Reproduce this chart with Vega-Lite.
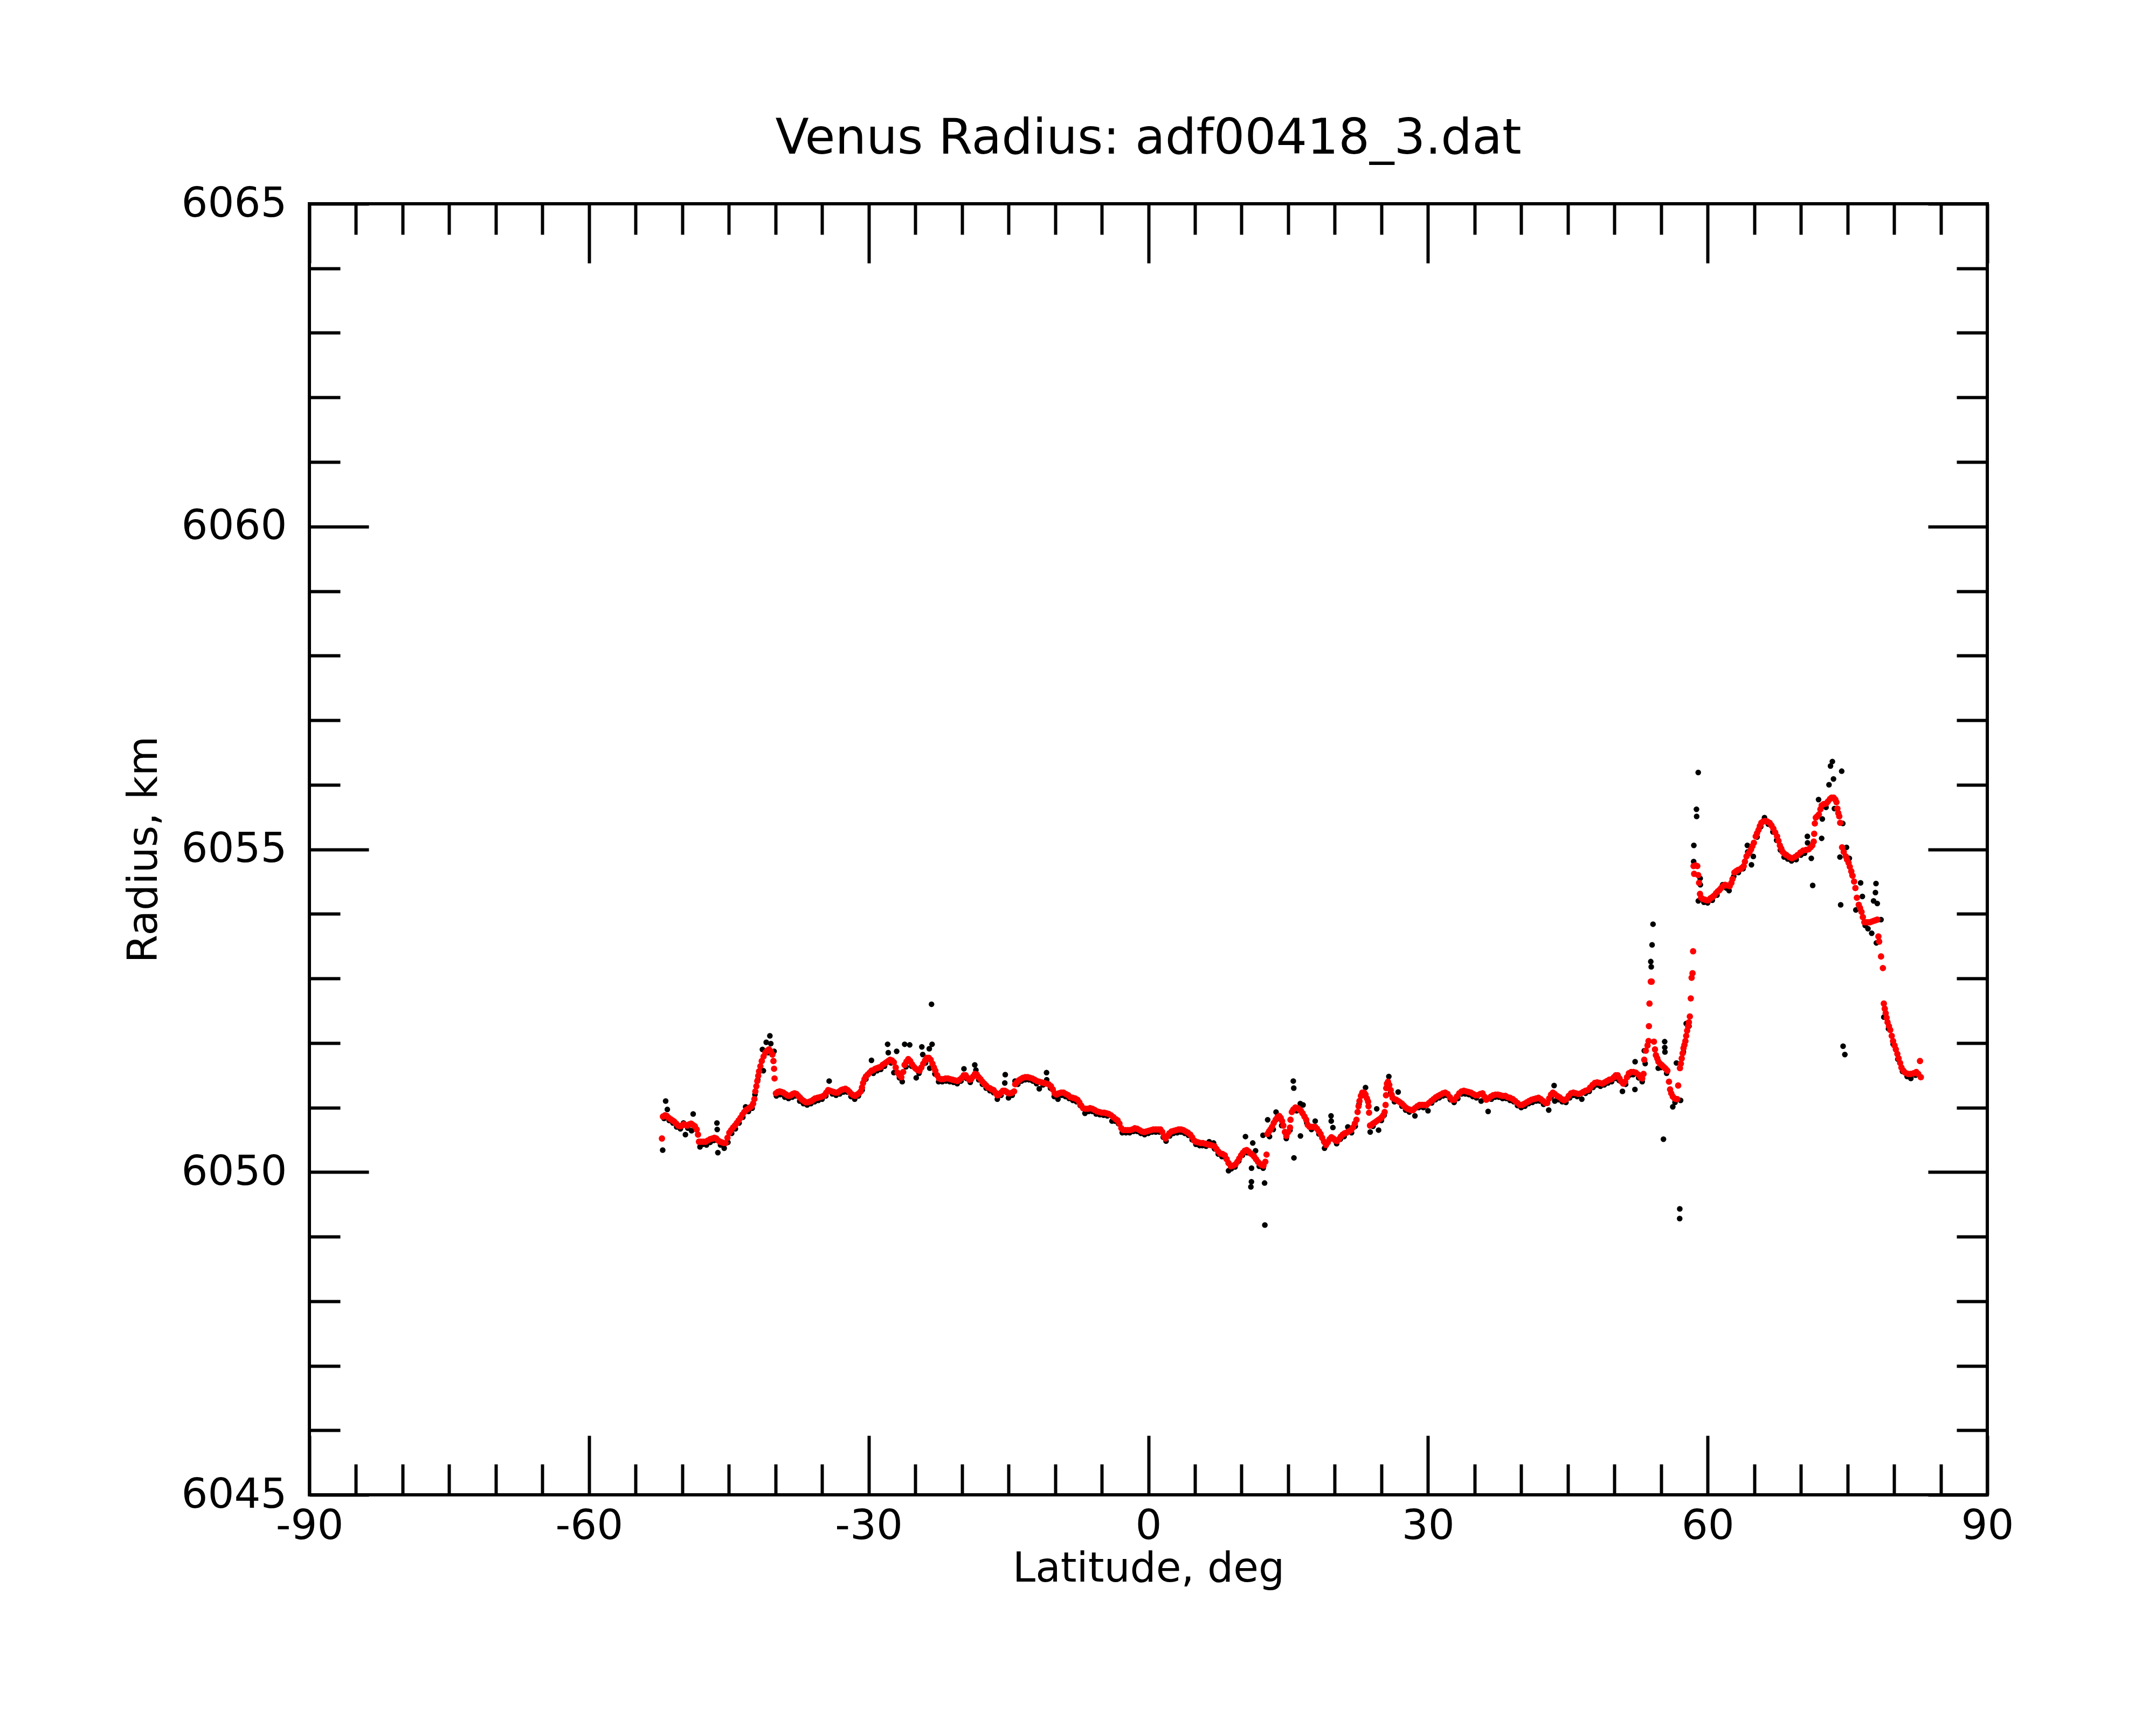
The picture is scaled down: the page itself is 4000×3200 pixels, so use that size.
{
  "$schema": "https://vega.github.io/schema/vega-lite/v6.json",
  "autosize": {"type": "none"},
  "width": 3113,
  "height": 2395,
  "padding": {"left": 574, "top": 378, "right": 313, "bottom": 427},
  "background": "white",
  "title": {"text": "Venus Radius: adf00418_3.dat", "fontSize": 91, "font": "DejaVu Sans", "fontWeight": "normal", "color": "black", "anchor": "middle", "frame": "group", "baseline": "alphabetic", "offset": 96, "dy": 133},
  "config": {"view": {"stroke": "black", "strokeWidth": 6}, "font": "DejaVu Sans"},
  "datasets": {
    "fit": [
      {"lat":-52.18,"r":6050.52},{"lat":-52.07,"r":6050.86},{"lat":-51.85,"r":6050.88},{"lat":-51.65,"r":6050.87},{"lat":-51.45,"r":6050.84},{"lat":-51.25,"r":6050.82},{"lat":-51.05,"r":6050.80},{"lat":-50.85,"r":6050.78},{"lat":-50.65,"r":6050.75},{"lat":-50.45,"r":6050.72},{"lat":-50.25,"r":6050.71},{"lat":-50.05,"r":6050.72},{"lat":-49.85,"r":6050.74},{"lat":-49.65,"r":6050.73},{"lat":-49.45,"r":6050.72},{"lat":-49.25,"r":6050.74},{"lat":-49.05,"r":6050.75},{"lat":-48.85,"r":6050.73},{"lat":-48.65,"r":6050.71},{"lat":-48.45,"r":6050.66},{"lat":-48.31,"r":6050.58},{"lat":-48.21,"r":6050.47},{"lat":-48.0,"r":6050.47},{"lat":-47.75,"r":6050.47},{"lat":-47.5,"r":6050.47},{"lat":-47.25,"r":6050.49},{"lat":-47.0,"r":6050.51},{"lat":-46.75,"r":6050.52},{"lat":-46.55,"r":6050.53},{"lat":-46.35,"r":6050.52},{"lat":-46.15,"r":6050.49},{"lat":-45.95,"r":6050.47},{"lat":-45.75,"r":6050.46},{"lat":-45.55,"r":6050.45},{"lat":-45.35,"r":6050.45},{"lat":-45.15,"r":6050.53},{"lat":-44.95,"r":6050.61},{"lat":-44.75,"r":6050.65},{"lat":-44.55,"r":6050.69},{"lat":-44.35,"r":6050.72},{"lat":-44.15,"r":6050.76},{"lat":-43.95,"r":6050.80},{"lat":-43.75,"r":6050.84},{"lat":-43.55,"r":6050.89},{"lat":-43.35,"r":6050.93},{"lat":-43.15,"r":6050.96},{"lat":-42.95,"r":6050.98},{"lat":-42.75,"r":6051.00},{"lat":-42.55,"r":6051.02},{"lat":-42.4,"r":6051.06},{"lat":-42.26,"r":6051.13},{"lat":-42.16,"r":6051.25},{"lat":-42.05,"r":6051.33},{"lat":-41.95,"r":6051.41},{"lat":-41.85,"r":6051.49},{"lat":-41.76,"r":6051.56},{"lat":-41.62,"r":6051.64},{"lat":-41.47,"r":6051.72},{"lat":-41.28,"r":6051.79},{"lat":-41.08,"r":6051.85},{"lat":-40.9,"r":6051.88},{"lat":-40.7,"r":6051.90},{"lat":-40.5,"r":6051.87},{"lat":-40.33,"r":6051.82},{"lat":-40.22,"r":6051.72},{"lat":-40.15,"r":6051.60},{"lat":-40.1,"r":6051.45},
      {"lat":-39.95,"r":6051.22},{"lat":-39.75,"r":6051.24},{"lat":-39.55,"r":6051.25},{"lat":-39.35,"r":6051.24},{"lat":-39.15,"r":6051.23},{"lat":-38.95,"r":6051.21},{"lat":-38.75,"r":6051.19},{"lat":-38.55,"r":6051.18},{"lat":-38.35,"r":6051.19},{"lat":-38.15,"r":6051.21},{"lat":-37.95,"r":6051.22},{"lat":-37.75,"r":6051.21},{"lat":-37.55,"r":6051.18},{"lat":-37.35,"r":6051.15},{"lat":-37.15,"r":6051.12},{"lat":-36.95,"r":6051.10},{"lat":-36.75,"r":6051.08},{"lat":-36.55,"r":6051.08},{"lat":-36.35,"r":6051.09},{"lat":-36.15,"r":6051.10},{"lat":-35.95,"r":6051.12},{"lat":-35.75,"r":6051.14},{"lat":-35.5,"r":6051.15},{"lat":-35.25,"r":6051.16},{"lat":-35.0,"r":6051.17},{"lat":-34.75,"r":6051.19},{"lat":-34.55,"r":6051.23},{"lat":-34.35,"r":6051.27},{"lat":-34.15,"r":6051.26},{"lat":-33.95,"r":6051.25},{"lat":-33.75,"r":6051.24},{"lat":-33.55,"r":6051.23},{"lat":-33.35,"r":6051.23},{"lat":-33.15,"r":6051.25},{"lat":-32.95,"r":6051.27},{"lat":-32.75,"r":6051.28},{"lat":-32.5,"r":6051.29},{"lat":-32.25,"r":6051.27},{"lat":-32.05,"r":6051.24},{"lat":-31.85,"r":6051.21},{"lat":-31.65,"r":6051.19},{"lat":-31.45,"r":6051.18},{"lat":-31.25,"r":6051.20},{"lat":-31.05,"r":6051.22},{"lat":-30.85,"r":6051.25},{"lat":-30.72,"r":6051.31},{"lat":-30.6,"r":6051.38},{"lat":-30.45,"r":6051.44},{"lat":-30.3,"r":6051.48},{"lat":-30.1,"r":6051.51},{"lat":-29.9,"r":6051.54},{"lat":-29.7,"r":6051.57},{"lat":-29.5,"r":6051.58},{"lat":-29.3,"r":6051.60},{"lat":-29.1,"r":6051.61},{"lat":-28.9,"r":6051.62},{"lat":-28.7,"r":6051.63},{"lat":-28.5,"r":6051.66},{"lat":-28.3,"r":6051.68},{"lat":-28.1,"r":6051.70},{"lat":-27.9,"r":6051.72},{"lat":-27.7,"r":6051.74},{"lat":-27.5,"r":6051.73},{"lat":-27.3,"r":6051.70},{"lat":-27.1,"r":6051.62},{"lat":-26.9,"r":6051.54},{"lat":-26.7,"r":6051.50},{"lat":-26.5,"r":6051.47},{"lat":-26.3,"r":6051.55},{"lat":-26.15,"r":6051.66},{"lat":-25.95,"r":6051.71},{"lat":-25.75,"r":6051.75},{"lat":-25.55,"r":6051.72},{"lat":-25.35,"r":6051.67},{"lat":-25.15,"r":6051.63},{"lat":-24.95,"r":6051.60},{"lat":-24.75,"r":6051.58},{"lat":-24.55,"r":6051.57},{"lat":-24.35,"r":6051.62},{"lat":-24.15,"r":6051.68},{"lat":-23.95,"r":6051.73},{"lat":-23.75,"r":6051.77},{"lat":-23.55,"r":6051.77},{"lat":-23.35,"r":6051.74},{"lat":-23.16,"r":6051.68},{"lat":-23.0,"r":6051.62},{"lat":-22.85,"r":6051.57},{"lat":-22.65,"r":6051.50},{"lat":-22.45,"r":6051.45},{"lat":-22.25,"r":6051.44},{"lat":-22.0,"r":6051.44},{"lat":-21.75,"r":6051.45},{"lat":-21.5,"r":6051.45},{"lat":-21.25,"r":6051.44},{"lat":-21.0,"r":6051.43},{"lat":-20.75,"r":6051.42},{"lat":-20.5,"r":6051.41},{"lat":-20.25,"r":6051.43},{"lat":-20.0,"r":6051.46},{"lat":-19.8,"r":6051.50},{"lat":-19.6,"r":6051.50},{"lat":-19.4,"r":6051.46},{"lat":-19.2,"r":6051.43},{"lat":-19.0,"r":6051.44},{"lat":-18.8,"r":6051.48},{"lat":-18.6,"r":6051.52},{"lat":-18.4,"r":6051.51},{"lat":-18.2,"r":6051.47},{"lat":-18.0,"r":6051.44},{"lat":-17.8,"r":6051.40},{"lat":-17.6,"r":6051.37},{"lat":-17.4,"r":6051.34},{"lat":-17.2,"r":6051.31},{"lat":-17.0,"r":6051.30},{"lat":-16.8,"r":6051.28},{"lat":-16.6,"r":6051.27},{"lat":-16.4,"r":6051.23},{"lat":-16.2,"r":6051.19},{"lat":-16.0,"r":6051.20},{"lat":-15.8,"r":6051.23},{"lat":-15.6,"r":6051.26},{"lat":-15.4,"r":6051.26},{"lat":-15.2,"r":6051.24},{"lat":-15.0,"r":6051.22},{"lat":-14.8,"r":6051.22},{"lat":-14.6,"r":6051.23},{"lat":-14.4,"r":6051.25},{"lat":-14.28,"r":6051.36},{"lat":-14.1,"r":6051.39},{"lat":-13.9,"r":6051.42},{"lat":-13.7,"r":6051.44},{"lat":-13.45,"r":6051.46},{"lat":-13.2,"r":6051.47},{"lat":-12.95,"r":6051.47},{"lat":-12.7,"r":6051.46},{"lat":-12.45,"r":6051.45},{"lat":-12.2,"r":6051.43},{"lat":-11.95,"r":6051.41},{"lat":-11.7,"r":6051.40},{"lat":-11.45,"r":6051.39},{"lat":-11.2,"r":6051.38},{"lat":-10.95,"r":6051.37},{"lat":-10.7,"r":6051.36},{"lat":-10.45,"r":6051.33},{"lat":-10.25,"r":6051.28},{"lat":-10.05,"r":6051.22},{"lat":-9.85,"r":6051.20},{"lat":-9.6,"r":6051.22},{"lat":-9.35,"r":6051.23},{"lat":-9.1,"r":6051.23},{"lat":-8.85,"r":6051.21},{"lat":-8.6,"r":6051.19},{"lat":-8.35,"r":6051.16},{"lat":-8.1,"r":6051.15},{"lat":-7.85,"r":6051.14},{"lat":-7.6,"r":6051.12},{"lat":-7.4,"r":6051.08},{"lat":-7.2,"r":6051.03},{"lat":-7.0,"r":6050.99},{"lat":-6.75,"r":6050.98},{"lat":-6.5,"r":6050.98},{"lat":-6.25,"r":6050.99},{"lat":-6.0,"r":6050.98},{"lat":-5.75,"r":6050.96},{"lat":-5.5,"r":6050.94},{"lat":-5.25,"r":6050.93},{"lat":-5.0,"r":6050.92},{"lat":-4.75,"r":6050.92},{"lat":-4.5,"r":6050.91},{"lat":-4.25,"r":6050.90},{"lat":-4.0,"r":6050.88},{"lat":-3.75,"r":6050.85},{"lat":-3.5,"r":6050.82},{"lat":-3.3,"r":6050.80},{"lat":-3.1,"r":6050.75},{"lat":-2.9,"r":6050.68},{"lat":-2.7,"r":6050.65},{"lat":-2.45,"r":6050.65},{"lat":-2.2,"r":6050.65},{"lat":-1.95,"r":6050.65},{"lat":-1.7,"r":6050.66},{"lat":-1.45,"r":6050.68},{"lat":-1.2,"r":6050.67},{"lat":-0.95,"r":6050.65},{"lat":-0.7,"r":6050.63},{"lat":-0.45,"r":6050.62},{"lat":-0.2,"r":6050.63},{"lat":0.05,"r":6050.64},{"lat":0.3,"r":6050.65},{"lat":0.55,"r":6050.66},{"lat":0.8,"r":6050.66},{"lat":1.05,"r":6050.66},{"lat":1.3,"r":6050.66},{"lat":1.5,"r":6050.62},{"lat":1.7,"r":6050.55},{"lat":1.85,"r":6050.52},{"lat":2.05,"r":6050.56},{"lat":2.25,"r":6050.60},{"lat":2.5,"r":6050.63},{"lat":2.75,"r":6050.64},{"lat":3.0,"r":6050.65},{"lat":3.25,"r":6050.66},{"lat":3.5,"r":6050.66},{"lat":3.75,"r":6050.65},{"lat":4.0,"r":6050.63},{"lat":4.25,"r":6050.61},{"lat":4.5,"r":6050.58},{"lat":4.7,"r":6050.54},{"lat":4.9,"r":6050.49},{"lat":5.1,"r":6050.47},{"lat":5.35,"r":6050.46},{"lat":5.6,"r":6050.45},{"lat":5.85,"r":6050.45},{"lat":6.1,"r":6050.44},{"lat":6.35,"r":6050.43},{"lat":6.6,"r":6050.42},{"lat":6.85,"r":6050.41},{"lat":7.1,"r":6050.40},{"lat":7.3,"r":6050.36},{"lat":7.5,"r":6050.32},{"lat":7.7,"r":6050.29},{"lat":7.95,"r":6050.28},{"lat":8.2,"r":6050.26},{"lat":8.4,"r":6050.20},{"lat":8.6,"r":6050.14},{"lat":8.85,"r":6050.09},{"lat":9.1,"r":6050.10},{"lat":9.35,"r":6050.12},{"lat":9.55,"r":6050.16},{"lat":9.75,"r":6050.21},{"lat":9.95,"r":6050.26},{"lat":10.15,"r":6050.30},{"lat":10.35,"r":6050.33},{"lat":10.55,"r":6050.34},{"lat":10.75,"r":6050.32},{"lat":10.95,"r":6050.29},{"lat":11.15,"r":6050.27},{"lat":11.35,"r":6050.24},{"lat":11.55,"r":6050.20},{"lat":11.75,"r":6050.16},{"lat":11.95,"r":6050.13},{"lat":12.15,"r":6050.11},{"lat":12.35,"r":6050.10},{"lat":12.55,"r":6050.16},{"lat":12.68,"r":6050.27},{"lat":12.78,"r":6050.59},{"lat":12.95,"r":6050.63},{"lat":13.1,"r":6050.66},{"lat":13.27,"r":6050.70},{"lat":13.45,"r":6050.76},{"lat":13.66,"r":6050.81},{"lat":13.85,"r":6050.85},{"lat":14.04,"r":6050.87},{"lat":14.2,"r":6050.84},{"lat":14.35,"r":6050.79},{"lat":14.48,"r":6050.72},{"lat":14.65,"r":6050.62},{"lat":14.81,"r":6050.56},{"lat":15.0,"r":6050.62},{"lat":15.2,"r":6050.69},{"lat":15.25,"r":6050.81},{"lat":15.39,"r":6050.93},{"lat":15.55,"r":6050.97},{"lat":15.78,"r":6051.00},{"lat":16.0,"r":6050.99},{"lat":16.2,"r":6050.97},{"lat":16.36,"r":6050.95},{"lat":16.55,"r":6050.91},{"lat":16.75,"r":6050.86},{"lat":16.94,"r":6050.81},{"lat":17.1,"r":6050.73},{"lat":17.3,"r":6050.70},{"lat":17.5,"r":6050.70},{"lat":17.7,"r":6050.70},{"lat":17.9,"r":6050.70},{"lat":18.1,"r":6050.67},{"lat":18.3,"r":6050.63},{"lat":18.48,"r":6050.59},{"lat":18.65,"r":6050.53},{"lat":18.85,"r":6050.47},{"lat":19.06,"r":6050.42},{"lat":19.25,"r":6050.46},{"lat":19.45,"r":6050.51},{"lat":19.64,"r":6050.54},{"lat":19.85,"r":6050.52},{"lat":20.05,"r":6050.49},{"lat":20.25,"r":6050.48},{"lat":20.45,"r":6050.51},{"lat":20.65,"r":6050.55},{"lat":20.85,"r":6050.58},{"lat":21.05,"r":6050.60},{"lat":21.25,"r":6050.61},{"lat":21.5,"r":6050.63},{"lat":21.75,"r":6050.65},{"lat":21.95,"r":6050.69},{"lat":22.15,"r":6050.75},{"lat":22.33,"r":6050.81},{"lat":22.45,"r":6050.93},{"lat":22.55,"r":6051.02},{"lat":22.65,"r":6051.10},{"lat":22.8,"r":6051.18},{"lat":22.95,"r":6051.23},{"lat":23.15,"r":6051.23},{"lat":23.3,"r":6051.20},{"lat":23.45,"r":6051.14},{"lat":23.58,"r":6051.09},{"lat":23.62,"r":6051.02},{"lat":23.68,"r":6050.92},{"lat":23.78,"r":6050.72},{"lat":23.95,"r":6050.73},{"lat":24.1,"r":6050.75},{"lat":24.3,"r":6050.77},{"lat":24.5,"r":6050.79},{"lat":24.7,"r":6050.81},{"lat":24.9,"r":6050.83},{"lat":25.05,"r":6050.85},{"lat":25.2,"r":6050.88},{"lat":25.35,"r":6050.93},{"lat":25.45,"r":6051.04},{"lat":25.5,"r":6051.19},{"lat":25.52,"r":6051.30},{"lat":25.6,"r":6051.37},{"lat":25.71,"r":6051.40},{"lat":25.85,"r":6051.35},{"lat":26.0,"r":6051.27},{"lat":26.1,"r":6051.20},{"lat":26.2,"r":6051.15},{"lat":26.4,"r":6051.13},{"lat":26.6,"r":6051.12},{"lat":26.8,"r":6051.10},{"lat":27.0,"r":6051.08},{"lat":27.2,"r":6051.06},{"lat":27.4,"r":6051.03},{"lat":27.6,"r":6051.00},{"lat":27.8,"r":6050.98},{"lat":28.0,"r":6050.97},{"lat":28.2,"r":6050.96},{"lat":28.4,"r":6050.96},{"lat":28.6,"r":6050.99},{"lat":28.85,"r":6051.02},{"lat":29.1,"r":6051.04},{"lat":29.35,"r":6051.04},{"lat":29.6,"r":6051.04},{"lat":29.85,"r":6051.04},{"lat":30.1,"r":6051.07},{"lat":30.35,"r":6051.10},{"lat":30.6,"r":6051.13},{"lat":30.85,"r":6051.16},{"lat":31.1,"r":6051.18},{"lat":31.35,"r":6051.20},{"lat":31.6,"r":6051.22},{"lat":31.85,"r":6051.23},{"lat":32.1,"r":6051.21},{"lat":32.35,"r":6051.16},{"lat":32.6,"r":6051.12},{"lat":32.85,"r":6051.12},{"lat":33.1,"r":6051.17},{"lat":33.35,"r":6051.22},{"lat":33.6,"r":6051.25},{"lat":33.85,"r":6051.26},{"lat":34.1,"r":6051.25},{"lat":34.35,"r":6051.24},{"lat":34.6,"r":6051.23},{"lat":34.85,"r":6051.21},{"lat":35.1,"r":6051.19},{"lat":35.35,"r":6051.19},{"lat":35.6,"r":6051.21},{"lat":35.85,"r":6051.22},{"lat":36.05,"r":6051.17},{"lat":36.25,"r":6051.12},{"lat":36.5,"r":6051.14},{"lat":36.75,"r":6051.17},{"lat":37.0,"r":6051.19},{"lat":37.25,"r":6051.20},{"lat":37.5,"r":6051.20},{"lat":37.75,"r":6051.19},{"lat":38.0,"r":6051.18},{"lat":38.3,"r":6051.18},{"lat":38.55,"r":6051.16},{"lat":38.8,"r":6051.15},{"lat":39.1,"r":6051.13},{"lat":39.35,"r":6051.10},{"lat":39.6,"r":6051.07},{"lat":39.85,"r":6051.04},{"lat":40.1,"r":6051.04},{"lat":40.35,"r":6051.06},{"lat":40.6,"r":6051.08},{"lat":40.85,"r":6051.10},{"lat":41.1,"r":6051.12},{"lat":41.35,"r":6051.13},{"lat":41.6,"r":6051.14},{"lat":41.85,"r":6051.15},{"lat":42.1,"r":6051.13},{"lat":42.35,"r":6051.10},{"lat":42.6,"r":6051.07},{"lat":42.8,"r":6051.07},{"lat":43.0,"r":6051.14},{"lat":43.2,"r":6051.20},{"lat":43.4,"r":6051.23},{"lat":43.6,"r":6051.21},{"lat":43.85,"r":6051.18},{"lat":44.1,"r":6051.16},{"lat":44.35,"r":6051.13},{"lat":44.6,"r":6051.11},{"lat":44.85,"r":6051.13},{"lat":45.1,"r":6051.18},{"lat":45.35,"r":6051.22},{"lat":45.6,"r":6051.23},{"lat":45.85,"r":6051.22},{"lat":46.1,"r":6051.21},{"lat":46.4,"r":6051.22},{"lat":46.65,"r":6051.24},{"lat":46.9,"r":6051.26},{"lat":47.15,"r":6051.27},{"lat":47.4,"r":6051.31},{"lat":47.65,"r":6051.35},{"lat":47.9,"r":6051.38},{"lat":48.15,"r":6051.39},{"lat":48.4,"r":6051.38},{"lat":48.7,"r":6051.37},{"lat":48.95,"r":6051.39},{"lat":49.2,"r":6051.41},{"lat":49.45,"r":6051.43},{"lat":49.7,"r":6051.44},{"lat":49.95,"r":6051.47},{"lat":50.15,"r":6051.50},{"lat":50.35,"r":6051.50},{"lat":50.55,"r":6051.45},{"lat":50.75,"r":6051.40},{"lat":50.95,"r":6051.37},{"lat":51.15,"r":6051.40},{"lat":51.35,"r":6051.47},{"lat":51.55,"r":6051.53},{"lat":51.8,"r":6051.55},{"lat":52.05,"r":6051.55},{"lat":52.3,"r":6051.54},{"lat":52.55,"r":6051.51},{"lat":52.8,"r":6051.47},{"lat":52.98,"r":6051.45},{"lat":53.12,"r":6051.52},{"lat":53.2,"r":6051.74},{"lat":53.37,"r":6051.88},{"lat":53.55,"r":6051.96},{"lat":53.66,"r":6052.03},{"lat":53.7,"r":6052.26},{"lat":53.76,"r":6052.61},{"lat":53.9,"r":6052.95},{"lat":54.0,"r":6052.95},{"lat":54.24,"r":6052.02},{"lat":54.35,"r":6051.90},{"lat":54.45,"r":6051.81},{"lat":54.6,"r":6051.76},{"lat":54.72,"r":6051.71},{"lat":54.9,"r":6051.68},{"lat":55.05,"r":6051.66},{"lat":55.2,"r":6051.64},{"lat":55.35,"r":6051.62},{"lat":55.5,"r":6051.60},{"lat":55.68,"r":6051.57},{"lat":55.85,"r":6051.40},{"lat":55.97,"r":6051.28},{"lat":56.1,"r":6051.22},{"lat":56.26,"r":6051.17},{"lat":56.45,"r":6051.14},{"lat":56.6,"r":6051.13},{"lat":56.74,"r":6051.13},{"lat":56.84,"r":6051.34},{"lat":57.03,"r":6051.61},{"lat":57.13,"r":6051.68},{"lat":57.22,"r":6051.76},{"lat":57.32,"r":6051.84},{"lat":57.41,"r":6051.92},{"lat":57.51,"r":6051.97},{"lat":57.61,"r":6052.03},{"lat":57.7,"r":6052.11},{"lat":57.8,"r":6052.19},{"lat":57.9,"r":6052.26},{"lat":57.99,"r":6052.32},{"lat":58.09,"r":6052.41},{"lat":58.19,"r":6052.69},{"lat":58.28,"r":6053.01},{"lat":58.38,"r":6053.08},{"lat":58.44,"r":6053.42},{"lat":58.49,"r":6054.74},{"lat":58.55,"r":6054.62},{"lat":58.7,"r":6054.75},{"lat":58.89,"r":6054.74},{"lat":58.99,"r":6054.60},{"lat":59.08,"r":6054.48},{"lat":59.18,"r":6054.31},{"lat":59.3,"r":6054.25},{"lat":59.48,"r":6054.23},{"lat":59.7,"r":6054.22},{"lat":59.9,"r":6054.21},{"lat":60.08,"r":6054.21},{"lat":60.3,"r":6054.24},{"lat":60.5,"r":6054.26},{"lat":60.68,"r":6054.28},{"lat":60.9,"r":6054.32},{"lat":61.1,"r":6054.35},{"lat":61.27,"r":6054.37},{"lat":61.45,"r":6054.40},{"lat":61.65,"r":6054.43},{"lat":61.87,"r":6054.45},{"lat":62.1,"r":6054.44},{"lat":62.37,"r":6054.43},{"lat":62.55,"r":6054.48},{"lat":62.67,"r":6054.54},{"lat":62.87,"r":6054.64},{"lat":63.05,"r":6054.66},{"lat":63.25,"r":6054.68},{"lat":63.47,"r":6054.69},{"lat":63.65,"r":6054.71},{"lat":63.87,"r":6054.74},{"lat":64.0,"r":6054.81},{"lat":64.17,"r":6054.89},{"lat":64.35,"r":6054.93},{"lat":64.5,"r":6054.96},{"lat":64.66,"r":6055.00},{"lat":64.8,"r":6055.05},{"lat":64.96,"r":6055.10},{"lat":65.16,"r":6055.20},{"lat":65.3,"r":6055.25},{"lat":65.46,"r":6055.30},{"lat":65.6,"r":6055.36},{"lat":65.76,"r":6055.41},{"lat":65.95,"r":6055.43},{"lat":66.16,"r":6055.44},{"lat":66.4,"r":6055.43},{"lat":66.65,"r":6055.41},{"lat":66.85,"r":6055.37},{"lat":67.05,"r":6055.32},{"lat":67.25,"r":6055.26},{"lat":67.45,"r":6055.20},{"lat":67.6,"r":6055.13},{"lat":67.75,"r":6055.06},{"lat":67.9,"r":6055.01},{"lat":68.05,"r":6054.96},{"lat":68.25,"r":6054.93},{"lat":68.45,"r":6054.91},{"lat":68.75,"r":6054.88},{"lat":69.04,"r":6054.86},{"lat":69.35,"r":6054.88},{"lat":69.64,"r":6054.91},{"lat":69.95,"r":6054.95},{"lat":70.24,"r":6054.98},{"lat":70.55,"r":6054.99},{"lat":70.83,"r":6055.00},{"lat":71.05,"r":6055.03},{"lat":71.23,"r":6055.06},{"lat":71.38,"r":6055.12},{"lat":71.43,"r":6055.24},{"lat":71.5,"r":6055.40},{"lat":71.6,"r":6055.49},{"lat":71.75,"r":6055.51},{"lat":71.93,"r":6055.54},{"lat":72.1,"r":6055.62},{"lat":72.23,"r":6055.68},{"lat":72.45,"r":6055.70},{"lat":72.72,"r":6055.71},{"lat":72.9,"r":6055.74},{"lat":73.12,"r":6055.78},{"lat":73.3,"r":6055.80},{"lat":73.52,"r":6055.80},{"lat":73.7,"r":6055.77},{"lat":73.82,"r":6055.73},{"lat":73.92,"r":6055.63},{"lat":74.02,"r":6055.56},{"lat":74.12,"r":6055.51},{"lat":74.22,"r":6055.41},{"lat":74.42,"r":6055.03},{"lat":74.6,"r":6054.96},{"lat":74.82,"r":6054.89},{"lat":74.95,"r":6054.84},{"lat":75.12,"r":6054.79},{"lat":75.25,"r":6054.73},{"lat":75.41,"r":6054.66},{"lat":75.55,"r":6054.59},{"lat":75.71,"r":6054.50},{"lat":75.85,"r":6054.40},{"lat":76.01,"r":6054.25},{"lat":76.21,"r":6054.14},{"lat":76.35,"r":6054.09},{"lat":76.51,"r":6054.03},{"lat":76.65,"r":6053.95},{"lat":76.81,"r":6053.87},{"lat":77.0,"r":6053.87},{"lat":77.2,"r":6053.87},{"lat":77.4,"r":6053.87},{"lat":77.6,"r":6053.88},{"lat":77.8,"r":6053.89},{"lat":78.0,"r":6053.90},{"lat":78.2,"r":6053.91},{"lat":78.32,"r":6053.65},{"lat":78.4,"r":6053.57},{"lat":78.6,"r":6053.34},{"lat":78.8,"r":6053.16},{"lat":78.9,"r":6052.61},{"lat":79.0,"r":6052.53},{"lat":79.1,"r":6052.46},{"lat":79.2,"r":6052.39},{"lat":79.3,"r":6052.32},{"lat":79.45,"r":6052.26},{"lat":79.59,"r":6052.20},{"lat":79.75,"r":6052.11},{"lat":79.89,"r":6052.03},{"lat":80.05,"r":6051.96},{"lat":80.19,"r":6051.90},{"lat":80.35,"r":6051.83},{"lat":80.49,"r":6051.76},{"lat":80.65,"r":6051.69},{"lat":80.79,"r":6051.62},{"lat":81.0,"r":6051.57},{"lat":81.19,"r":6051.54},{"lat":81.5,"r":6051.52},{"lat":81.78,"r":6051.52},{"lat":82.1,"r":6051.53},{"lat":82.38,"r":6051.55},{"lat":82.6,"r":6051.52},{"lat":82.87,"r":6051.47},{"lat":82.78,"r":6051.72}
    ],
    "raw": [
      {"lat":-52.1,"r":6050.34},{"lat":-51.95,"r":6050.83},{"lat":-51.78,"r":6051.10},{"lat":-51.6,"r":6050.97},{"lat":-51.4,"r":6050.80},{"lat":-51.0,"r":6050.76},{"lat":-50.6,"r":6050.70},{"lat":-50.2,"r":6050.67},{"lat":-49.87,"r":6050.76},{"lat":-49.66,"r":6050.58},{"lat":-49.4,"r":6050.68},{"lat":-49.0,"r":6050.64},{"lat":-48.83,"r":6050.90},{"lat":-48.6,"r":6050.67},{"lat":-48.1,"r":6050.39},{"lat":-47.8,"r":6050.43},{"lat":-47.4,"r":6050.42},{"lat":-47.0,"r":6050.46},{"lat":-46.6,"r":6050.49},{"lat":-46.28,"r":6050.76},{"lat":-46.25,"r":6050.66},{"lat":-46.18,"r":6050.30},{"lat":-45.9,"r":6050.42},{"lat":-45.5,"r":6050.37},{"lat":-45.1,"r":6050.46},{"lat":-44.7,"r":6050.60},{"lat":-44.3,"r":6050.67},{"lat":-43.9,"r":6050.76},{"lat":-43.5,"r":6050.85},{"lat":-43.2,"r":6051.01},{"lat":-42.9,"r":6050.94},{"lat":-42.5,"r":6050.99},{"lat":-42.2,"r":6051.20},{"lat":-41.9,"r":6051.43},{"lat":-41.4,"r":6051.90},{"lat":-41.3,"r":6051.57},{"lat":-40.99,"r":6052.01},{"lat":-40.8,"r":6051.85},{"lat":-40.6,"r":6052.11},{"lat":-40.5,"r":6051.99},{"lat":-40.15,"r":6051.87},{"lat":-39.9,"r":6051.18},{"lat":-39.5,"r":6051.20},{"lat":-39.0,"r":6051.16},{"lat":-38.6,"r":6051.14},{"lat":-38.2,"r":6051.16},{"lat":-37.8,"r":6051.18},{"lat":-37.4,"r":6051.10},{"lat":-37.0,"r":6051.06},{"lat":-36.6,"r":6051.04},{"lat":-36.2,"r":6051.06},{"lat":-35.8,"r":6051.09},{"lat":-35.4,"r":6051.11},{"lat":-35.0,"r":6051.13},{"lat":-34.6,"r":6051.18},{"lat":-34.24,"r":6051.41},{"lat":-33.9,"r":6051.21},{"lat":-33.5,"r":6051.19},{"lat":-33.1,"r":6051.21},{"lat":-32.7,"r":6051.24},{"lat":-32.3,"r":6051.24},{"lat":-31.9,"r":6051.17},{"lat":-31.5,"r":6051.13},{"lat":-31.1,"r":6051.18},{"lat":-30.7,"r":6051.27},{"lat":-30.3,"r":6051.44},{"lat":-29.7,"r":6051.73},{"lat":-29.5,"r":6051.53},{"lat":-29.1,"r":6051.57},{"lat":-28.7,"r":6051.59},{"lat":-28.3,"r":6051.64},{"lat":-27.97,"r":6051.98},{"lat":-27.9,"r":6051.85},{"lat":-27.6,"r":6051.69},{"lat":-27.3,"r":6051.54},{"lat":-27.0,"r":6051.87},{"lat":-26.7,"r":6051.46},{"lat":-26.4,"r":6051.40},{"lat":-26.14,"r":6051.98},{"lat":-26.0,"r":6051.63},{"lat":-25.6,"r":6051.97},{"lat":-25.4,"r":6051.64},{"lat":-24.9,"r":6051.46},{"lat":-24.6,"r":6051.53},{"lat":-24.3,"r":6051.94},{"lat":-24.2,"r":6051.82},{"lat":-23.9,"r":6051.69},{"lat":-23.5,"r":6051.91},{"lat":-23.26,"r":6052.60},{"lat":-23.2,"r":6051.98},{"lat":-23.45,"r":6051.61},{"lat":-22.9,"r":6051.52},{"lat":-22.5,"r":6051.40},{"lat":-22.1,"r":6051.40},{"lat":-21.7,"r":6051.41},{"lat":-21.3,"r":6051.40},{"lat":-20.9,"r":6051.39},{"lat":-20.5,"r":6051.37},{"lat":-20.1,"r":6051.41},{"lat":-19.78,"r":6051.60},{"lat":-19.5,"r":6051.45},{"lat":-19.1,"r":6051.39},{"lat":-18.62,"r":6051.66},{"lat":-18.5,"r":6051.58},{"lat":-18.2,"r":6051.43},{"lat":-17.8,"r":6051.36},{"lat":-17.4,"r":6051.30},{"lat":-17.0,"r":6051.26},{"lat":-16.6,"r":6051.23},{"lat":-16.2,"r":6051.13},{"lat":-15.8,"r":6051.19},{"lat":-15.35,"r":6051.51},{"lat":-15.4,"r":6051.38},{"lat":-15.0,"r":6051.15},{"lat":-14.6,"r":6051.19},{"lat":-14.3,"r":6051.41},{"lat":-14.0,"r":6051.36},{"lat":-13.6,"r":6051.41},{"lat":-13.2,"r":6051.43},{"lat":-12.8,"r":6051.43},{"lat":-12.4,"r":6051.41},{"lat":-12.0,"r":6051.37},{"lat":-11.7,"r":6051.29},{"lat":-11.3,"r":6051.35},{"lat":-10.92,"r":6051.54},{"lat":-10.9,"r":6051.43},{"lat":-10.5,"r":6051.30},{"lat":-10.1,"r":6051.17},{"lat":-9.7,"r":6051.13},{"lat":-9.3,"r":6051.19},{"lat":-8.9,"r":6051.17},{"lat":-8.5,"r":6051.14},{"lat":-8.1,"r":6051.11},{"lat":-7.7,"r":6051.09},{"lat":-7.3,"r":6051.03},{"lat":-6.8,"r":6050.91},{"lat":-6.4,"r":6050.94},{"lat":-6.0,"r":6050.94},{"lat":-5.6,"r":6050.90},{"lat":-5.2,"r":6050.89},{"lat":-4.8,"r":6050.88},{"lat":-4.4,"r":6050.87},{"lat":-3.9,"r":6050.79},{"lat":-3.6,"r":6050.79},{"lat":-3.2,"r":6050.75},{"lat":-2.8,"r":6050.61},{"lat":-2.4,"r":6050.61},{"lat":-2.0,"r":6050.61},{"lat":-1.6,"r":6050.63},{"lat":-1.2,"r":6050.63},{"lat":-0.8,"r":6050.60},{"lat":-0.4,"r":6050.58},{"lat":0.0,"r":6050.60},{"lat":0.4,"r":6050.62},{"lat":0.8,"r":6050.62},{"lat":1.2,"r":6050.62},{"lat":1.6,"r":6050.54},{"lat":1.9,"r":6050.48},{"lat":2.3,"r":6050.56},{"lat":2.7,"r":6050.60},{"lat":3.1,"r":6050.61},{"lat":3.5,"r":6050.62},{"lat":3.9,"r":6050.60},{"lat":4.3,"r":6050.57},{"lat":4.7,"r":6050.50},{"lat":5.1,"r":6050.43},{"lat":5.5,"r":6050.41},{"lat":5.8,"r":6050.41},{"lat":6.2,"r":6050.40},{"lat":6.53,"r":6050.47},{"lat":7.0,"r":6050.45},{"lat":7.1,"r":6050.36},{"lat":7.5,"r":6050.28},{"lat":7.9,"r":6050.24},{"lat":8.3,"r":6050.22},{"lat":8.6,"r":6050.02},{"lat":8.9,"r":6050.05},{"lat":9.3,"r":6050.08},{"lat":9.7,"r":6050.17},{"lat":10.1,"r":6050.26},{"lat":10.42,"r":6050.55},{"lat":10.6,"r":6050.30},{"lat":11.06,"r":6049.85},{"lat":11.0,"r":6049.77},{"lat":11.07,"r":6050.06},{"lat":11.2,"r":6050.45},{"lat":11.5,"r":6050.33},{"lat":11.9,"r":6050.09},{"lat":12.3,"r":6050.57},{"lat":12.32,"r":6050.06},{"lat":12.47,"r":6049.83},{"lat":12.5,"r":6049.18},{"lat":12.8,"r":6050.81},{"lat":13.0,"r":6050.55},{"lat":13.4,"r":6050.66},{"lat":13.7,"r":6050.93},{"lat":14.0,"r":6050.83},{"lat":14.3,"r":6050.72},{"lat":14.8,"r":6050.52},{"lat":15.2,"r":6050.65},{"lat":15.55,"r":6051.41},{"lat":15.6,"r":6051.30},{"lat":15.62,"r":6050.22},{"lat":15.9,"r":6050.95},{"lat":16.3,"r":6051.06},{"lat":16.32,"r":6050.56},{"lat":16.6,"r":6051.04},{"lat":17.0,"r":6050.76},{"lat":17.5,"r":6050.66},{"lat":17.9,"r":6050.79},{"lat":18.3,"r":6050.59},{"lat":18.9,"r":6050.37},{"lat":19.6,"r":6050.87},{"lat":19.62,"r":6050.79},{"lat":19.8,"r":6050.69},{"lat":20.2,"r":6050.44},{"lat":20.6,"r":6050.51},{"lat":21.0,"r":6050.55},{"lat":21.4,"r":6050.70},{"lat":21.8,"r":6050.61},{"lat":22.2,"r":6050.71},{"lat":22.6,"r":6051.05},{"lat":23.0,"r":6051.19},{"lat":23.3,"r":6051.31},{"lat":23.8,"r":6050.62},{"lat":24.1,"r":6050.71},{"lat":24.5,"r":6050.98},{"lat":24.7,"r":6050.65},{"lat":25.0,"r":6050.80},{"lat":25.3,"r":6050.88},{"lat":25.8,"r":6051.48},{"lat":26.0,"r":6051.23},{"lat":26.4,"r":6051.09},{"lat":26.8,"r":6051.24},{"lat":27.2,"r":6051.02},{"lat":27.6,"r":6050.96},{"lat":28.0,"r":6050.93},{"lat":28.6,"r":6050.87},{"lat":29.0,"r":6051.00},{"lat":29.5,"r":6051.00},{"lat":30.0,"r":6050.95},{"lat":30.4,"r":6051.07},{"lat":30.8,"r":6051.12},{"lat":31.2,"r":6051.15},{"lat":31.6,"r":6051.18},{"lat":32.0,"r":6051.19},{"lat":32.4,"r":6051.12},{"lat":32.8,"r":6051.08},{"lat":33.2,"r":6051.14},{"lat":33.6,"r":6051.21},{"lat":34.0,"r":6051.21},{"lat":34.4,"r":6051.20},{"lat":34.8,"r":6051.17},{"lat":35.2,"r":6051.15},{"lat":35.7,"r":6051.10},{"lat":36.1,"r":6051.13},{"lat":36.45,"r":6050.94},{"lat":36.8,"r":6051.13},{"lat":37.2,"r":6051.16},{"lat":37.6,"r":6051.16},{"lat":38.0,"r":6051.14},{"lat":38.4,"r":6051.14},{"lat":38.8,"r":6051.11},{"lat":39.2,"r":6051.09},{"lat":39.6,"r":6051.03},{"lat":40.0,"r":6051.00},{"lat":40.4,"r":6051.02},{"lat":40.8,"r":6051.06},{"lat":41.2,"r":6051.08},{"lat":41.6,"r":6051.10},{"lat":42.0,"r":6051.10},{"lat":42.4,"r":6051.05},{"lat":42.95,"r":6050.96},{"lat":43.2,"r":6051.16},{"lat":43.53,"r":6051.34},{"lat":43.6,"r":6051.10},{"lat":44.0,"r":6051.12},{"lat":44.4,"r":6051.09},{"lat":44.8,"r":6051.08},{"lat":45.2,"r":6051.15},{"lat":45.6,"r":6051.19},{"lat":46.0,"r":6051.17},{"lat":46.5,"r":6051.13},{"lat":46.9,"r":6051.22},{"lat":47.3,"r":6051.25},{"lat":47.7,"r":6051.31},{"lat":48.1,"r":6051.35},{"lat":48.5,"r":6051.33},{"lat":48.9,"r":6051.35},{"lat":49.3,"r":6051.38},{"lat":49.7,"r":6051.40},{"lat":50.1,"r":6051.45},{"lat":50.5,"r":6051.42},{"lat":50.86,"r":6051.25},{"lat":51.2,"r":6051.36},{"lat":51.6,"r":6051.50},{"lat":52.0,"r":6051.51},{"lat":52.2,"r":6051.28},{"lat":52.22,"r":6051.71},{"lat":52.6,"r":6051.46},{"lat":52.98,"r":6051.40},{"lat":53.2,"r":6051.88},{"lat":53.3,"r":6051.68},{"lat":53.9,"r":6053.26},{"lat":53.95,"r":6053.18},{"lat":54.04,"r":6053.52},{"lat":54.14,"r":6053.84},{"lat":54.7,"r":6051.61},{"lat":55.0,"r":6051.62},{"lat":55.26,"r":6050.51},{"lat":55.39,"r":6052.02},{"lat":55.4,"r":6051.93},{"lat":55.42,"r":6051.86},{"lat":55.6,"r":6051.53},{"lat":56.26,"r":6051.01},{"lat":56.5,"r":6051.08},{"lat":56.65,"r":6051.69},{"lat":57.01,"r":6049.43},{"lat":57.0,"r":6049.28},{"lat":57.1,"r":6051.11},{"lat":57.4,"r":6051.86},{"lat":57.7,"r":6052.30},{"lat":58.0,"r":6052.26},{"lat":58.5,"r":6054.81},{"lat":58.52,"r":6055.06},{"lat":58.8,"r":6055.62},{"lat":58.82,"r":6055.51},{"lat":58.99,"r":6056.19},{"lat":59.0,"r":6054.20},{"lat":59.2,"r":6054.55},{"lat":59.22,"r":6054.45},{"lat":59.6,"r":6054.18},{"lat":60.0,"r":6054.17},{"lat":60.5,"r":6054.21},{"lat":61.0,"r":6054.29},{"lat":61.6,"r":6054.45},{"lat":62.0,"r":6054.40},{"lat":62.3,"r":6054.36},{"lat":62.8,"r":6054.58},{"lat":63.3,"r":6054.64},{"lat":63.8,"r":6054.70},{"lat":64.26,"r":6055.06},{"lat":64.3,"r":6054.96},{"lat":64.7,"r":6054.76},{"lat":64.9,"r":6054.89},{"lat":65.3,"r":6055.19},{"lat":65.7,"r":6055.35},{"lat":66.1,"r":6055.49},{"lat":66.5,"r":6055.39},{"lat":67.0,"r":6055.27},{"lat":67.4,"r":6055.14},{"lat":67.8,"r":6054.99},{"lat":68.2,"r":6054.88},{"lat":68.6,"r":6054.85},{"lat":69.0,"r":6054.82},{"lat":69.5,"r":6054.84},{"lat":70.0,"r":6054.91},{"lat":70.4,"r":6054.94},{"lat":70.7,"r":6055.20},{"lat":70.72,"r":6055.10},{"lat":71.12,"r":6054.86},{"lat":71.27,"r":6054.44},{"lat":71.9,"r":6055.77},{"lat":72.23,"r":6055.17},{"lat":72.3,"r":6055.47},{"lat":72.7,"r":6055.65},{"lat":73.02,"r":6056.00},{"lat":73.18,"r":6056.29},{"lat":73.38,"r":6056.36},{"lat":73.5,"r":6056.09},{"lat":73.6,"r":6055.63},{"lat":74.19,"r":6054.88},{"lat":74.27,"r":6054.14},{"lat":74.38,"r":6056.21},{"lat":74.5,"r":6055.40},{"lat":74.53,"r":6051.95},{"lat":74.72,"r":6051.82},{"lat":74.9,"r":6055.03},{"lat":75.2,"r":6054.86},{"lat":75.5,"r":6054.60},{"lat":75.9,"r":6054.06},{"lat":76.41,"r":6054.48},{"lat":76.6,"r":6054.27},{"lat":76.9,"r":6053.82},{"lat":77.2,"r":6053.77},{"lat":77.6,"r":6053.70},{"lat":77.8,"r":6054.20},{"lat":78.0,"r":6054.33},{"lat":78.06,"r":6054.47},{"lat":78.2,"r":6054.16},{"lat":78.1,"r":6053.55},{"lat":78.6,"r":6053.91},{"lat":78.9,"r":6052.40},{"lat":79.4,"r":6052.22},{"lat":79.9,"r":6051.98},{"lat":80.4,"r":6051.75},{"lat":80.9,"r":6051.56},{"lat":81.4,"r":6051.48},{"lat":81.8,"r":6051.45},{"lat":82.3,"r":6051.50}
    ],
    "guide": [{"lat": 0, "r": 6055}]
  },
  "layer": [
    {
      "data": {"name": "raw"},
      "mark": {"type": "circle", "size": 110, "color": "black", "opacity": 1},
      "encoding": {
        "x": {"field": "lat", "type": "quantitative", "scale": {"domain": [-90, 90], "nice": false, "zero": false},
          "axis": {"orient": "bottom", "values": [-90, -60, -30, 0, 30, 60, 90], "labelExpr": "replace(datum.label, '\u2212', '-')", "ticks": false, "domain": false, "grid": false, "labelFontSize": 77, "labelFont": "DejaVu Sans", "labelColor": "black", "labelPadding": 20, "labelFlush": false, "labelOverlap": false, "labelLimit": 1000, "title": "Latitude, deg", "titleFont": "DejaVu Sans", "titleFontSize": 76, "titleFontWeight": "normal", "titleColor": "black", "titlePadding": 4}},
        "y": {"field": "r", "type": "quantitative", "scale": {"domain": [6045, 6065], "nice": false, "zero": false},
          "axis": {"orient": "left", "values": [6045, 6050, 6055, 6060, 6065], "format": "d", "ticks": false, "domain": false, "grid": false, "labelFontSize": 77, "labelFont": "DejaVu Sans", "labelColor": "black", "labelPadding": 42, "labelFlush": false, "labelOverlap": false, "labelLimit": 1000, "title": "Radius, km", "titleFont": "DejaVu Sans", "titleFontSize": 76, "titleFontWeight": "normal", "titleColor": "black", "titlePadding": 68}}
      }
    },
    {
      "data": {"name": "fit"},
      "mark": {"type": "circle", "size": 140, "color": "#ff0000", "opacity": 1},
      "encoding": {
        "x": {"field": "lat", "type": "quantitative",
          "axis": {"orient": "top", "values": [-90, -60, -30, 0, 30, 60, 90], "labels": false, "domain": false, "grid": false, "ticks": true, "tickSize": 110, "tickWidth": 6, "tickColor": "black", "offset": -110, "title": null}},
        "y": {"field": "r", "type": "quantitative",
          "axis": {"orient": "right", "values": [6045, 6050, 6055, 6060, 6065], "labels": false, "domain": false, "grid": false, "ticks": true, "tickSize": 110, "tickWidth": 6, "tickColor": "black", "offset": -110, "title": null}}
      }
    },
    {
      "data": {"name": "guide"},
      "mark": {"type": "circle", "opacity": 0},
      "encoding": {
        "x": {"field": "lat", "type": "quantitative",
          "axis": {"orient": "bottom", "values": [-90, -60, -30, 0, 30, 60, 90], "labels": false, "domain": false, "grid": false, "ticks": true, "tickSize": 110, "tickWidth": 6, "tickColor": "black", "offset": -110, "title": null}},
        "y": {"field": "r", "type": "quantitative",
          "axis": {"orient": "left", "values": [6045, 6050, 6055, 6060, 6065], "labels": false, "domain": false, "grid": false, "ticks": true, "tickSize": 110, "tickWidth": 6, "tickColor": "black", "offset": -110, "title": null}}
      }
    },
    {
      "data": {"name": "guide"},
      "mark": {"type": "circle", "opacity": 0},
      "encoding": {
        "x": {"field": "lat", "type": "quantitative",
          "axis": {"orient": "bottom", "values": [-85, -80, -75, -70, -65, -55, -50, -45, -40, -35, -25, -20, -15, -10, -5, 5, 10, 15, 20, 25, 35, 40, 45, 50, 55, 65, 70, 75, 80, 85], "labels": false, "domain": false, "grid": false, "ticks": true, "tickSize": 57, "tickWidth": 6, "tickColor": "black", "offset": -57, "title": null}},
        "y": {"field": "r", "type": "quantitative",
          "axis": {"orient": "left", "values": [6046, 6047, 6048, 6049, 6051, 6052, 6053, 6054, 6056, 6057, 6058, 6059, 6061, 6062, 6063, 6064], "labels": false, "domain": false, "grid": false, "ticks": true, "tickSize": 57, "tickWidth": 6, "tickColor": "black", "offset": -57, "title": null}}
      }
    },
    {
      "data": {"name": "guide"},
      "mark": {"type": "circle", "opacity": 0},
      "encoding": {
        "x": {"field": "lat", "type": "quantitative",
          "axis": {"orient": "top", "values": [-85, -80, -75, -70, -65, -55, -50, -45, -40, -35, -25, -20, -15, -10, -5, 5, 10, 15, 20, 25, 35, 40, 45, 50, 55, 65, 70, 75, 80, 85], "labels": false, "domain": false, "grid": false, "ticks": true, "tickSize": 57, "tickWidth": 6, "tickColor": "black", "offset": -57, "title": null}},
        "y": {"field": "r", "type": "quantitative",
          "axis": {"orient": "right", "values": [6046, 6047, 6048, 6049, 6051, 6052, 6053, 6054, 6056, 6057, 6058, 6059, 6061, 6062, 6063, 6064], "labels": false, "domain": false, "grid": false, "ticks": true, "tickSize": 57, "tickWidth": 6, "tickColor": "black", "offset": -57, "title": null}}
      }
    }
  ],
  "resolve": {"axis": {"x": "independent", "y": "independent"}}
}
